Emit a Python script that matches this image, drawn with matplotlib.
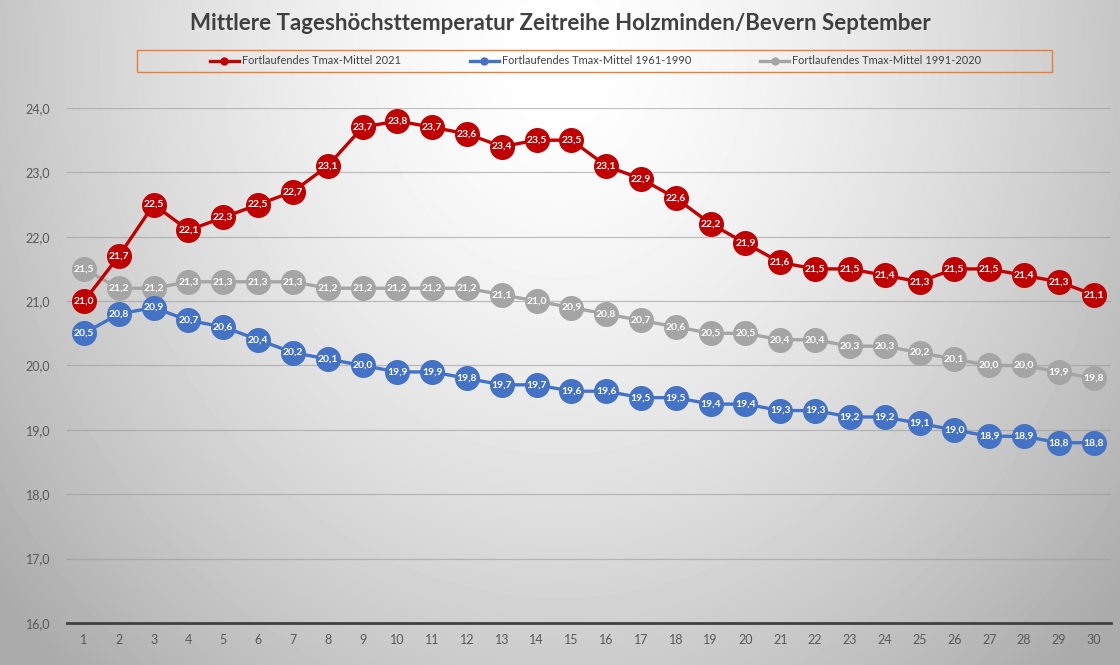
import numpy as np
import matplotlib.pyplot as plt
from matplotlib.patches import Rectangle
from matplotlib.ticker import FuncFormatter

days = list(range(1, 31))
tmax_2021 = [21.0, 21.7, 22.5, 22.1, 22.3, 22.5, 22.7, 23.1, 23.7, 23.8,
             23.7, 23.6, 23.4, 23.5, 23.5, 23.1, 22.9, 22.6, 22.2, 21.9,
             21.6, 21.5, 21.5, 21.4, 21.3, 21.5, 21.5, 21.4, 21.3, 21.1]
tmax_1961_1990 = [20.5, 20.8, 20.9, 20.7, 20.6, 20.4, 20.2, 20.1, 20.0, 19.9,
                  19.9, 19.8, 19.7, 19.7, 19.6, 19.6, 19.5, 19.5, 19.4, 19.4,
                  19.3, 19.3, 19.2, 19.2, 19.1, 19.0, 18.9, 18.9, 18.8, 18.8]
tmax_1991_2020 = [21.5, 21.2, 21.2, 21.3, 21.3, 21.3, 21.3, 21.2, 21.2, 21.2,
                  21.2, 21.2, 21.1, 21.0, 20.9, 20.8, 20.7, 20.6, 20.5, 20.5,
                  20.4, 20.4, 20.3, 20.3, 20.2, 20.1, 20.0, 20.0, 19.9, 19.8]
labels = ["Fortlaufendes Tmax-Mittel 2021",
          "Fortlaufendes Tmax-Mittel 1961-1990",
          "Fortlaufendes Tmax-Mittel 1991-2020"]
colors = ["#C00000", "#4472C4", "#A5A5A5"]

plt.rcParams['font.family'] = ['Lato', 'DejaVu Sans']

fig = plt.figure(figsize=(11.2, 6.65), dpi=100)

# radial grey background
bg = fig.add_axes([0, 0, 1, 1], zorder=-10)
yy, xx = np.mgrid[0:665, 0:1120]
d = np.sqrt(((xx - 560) / 600.0) ** 2 + ((yy - 60) / 700.0) ** 2)
shade = 1.0 - 0.25 * np.clip(d, 0, 1.2) ** 1.5
bg.imshow(shade, cmap='gray', vmin=0, vmax=1, aspect='auto')
bg.axis('off')

ax = fig.add_axes([0.0595, 0.0632, 0.9325, 0.7744])
ax.patch.set_alpha(0)

series = [tmax_2021, tmax_1961_1990, tmax_1991_2020]
order = [2, 1, 0]
for i in order:
    vals = series[i]
    ax.plot(days, vals, color=colors[i], lw=2.4, marker='o', ms=17,
            markeredgecolor=colors[i], zorder=3 + (2 - i))
    for x, v in zip(days, vals):
        ax.text(x, v, f"{v:.1f}".replace('.', ','), ha='center', va='center',
                color='white', fontsize=7.5, fontweight='bold',
                zorder=6 + (2 - i))

ax.set_xlim(0.5, 30.5)
ax.set_ylim(16, 24)
ax.set_xticks(days)
ax.set_yticks(np.arange(16, 24.5, 1))
ax.yaxis.set_major_formatter(FuncFormatter(lambda v, p: f"{v:.1f}".replace('.', ',')))
ax.tick_params(length=0, labelsize=9, colors='#595959', pad=8)
ax.tick_params(axis='y', pad=12)
ax.grid(axis='y', color='#9a9a9a', lw=0.9, alpha=0.6)
ax.set_axisbelow(True)
for s in ['top', 'right', 'left']:
    ax.spines[s].set_visible(False)
ax.spines['bottom'].set_color('#404040')
ax.spines['bottom'].set_linewidth(2)

fig.text(0.5, 0.965, "Mittlere Tageshöchsttemperatur Zeitreihe Holzminden/Bevern September",
         ha='center', va='center', fontsize=16, fontweight='bold', color='#404040')

# legend box
fig.patches.append(Rectangle((137 / 1120, 1 - 72 / 665), 915 / 1120, 22 / 665,
                             transform=fig.transFigure, fill=False,
                             edgecolor='#ED7D31', lw=1))
handles = [plt.Line2D([], [], color=c, lw=2.4, marker='o', ms=5) for c in colors]
fig.legend(handles, labels, loc='center', bbox_to_anchor=(0.532, 1 - 61 / 665),
           ncol=3, frameon=False, fontsize=7.9, handlelength=2.6,
           columnspacing=6.3, handletextpad=0.3, labelcolor='#404040')

fig.savefig("out.png", dpi=100)
